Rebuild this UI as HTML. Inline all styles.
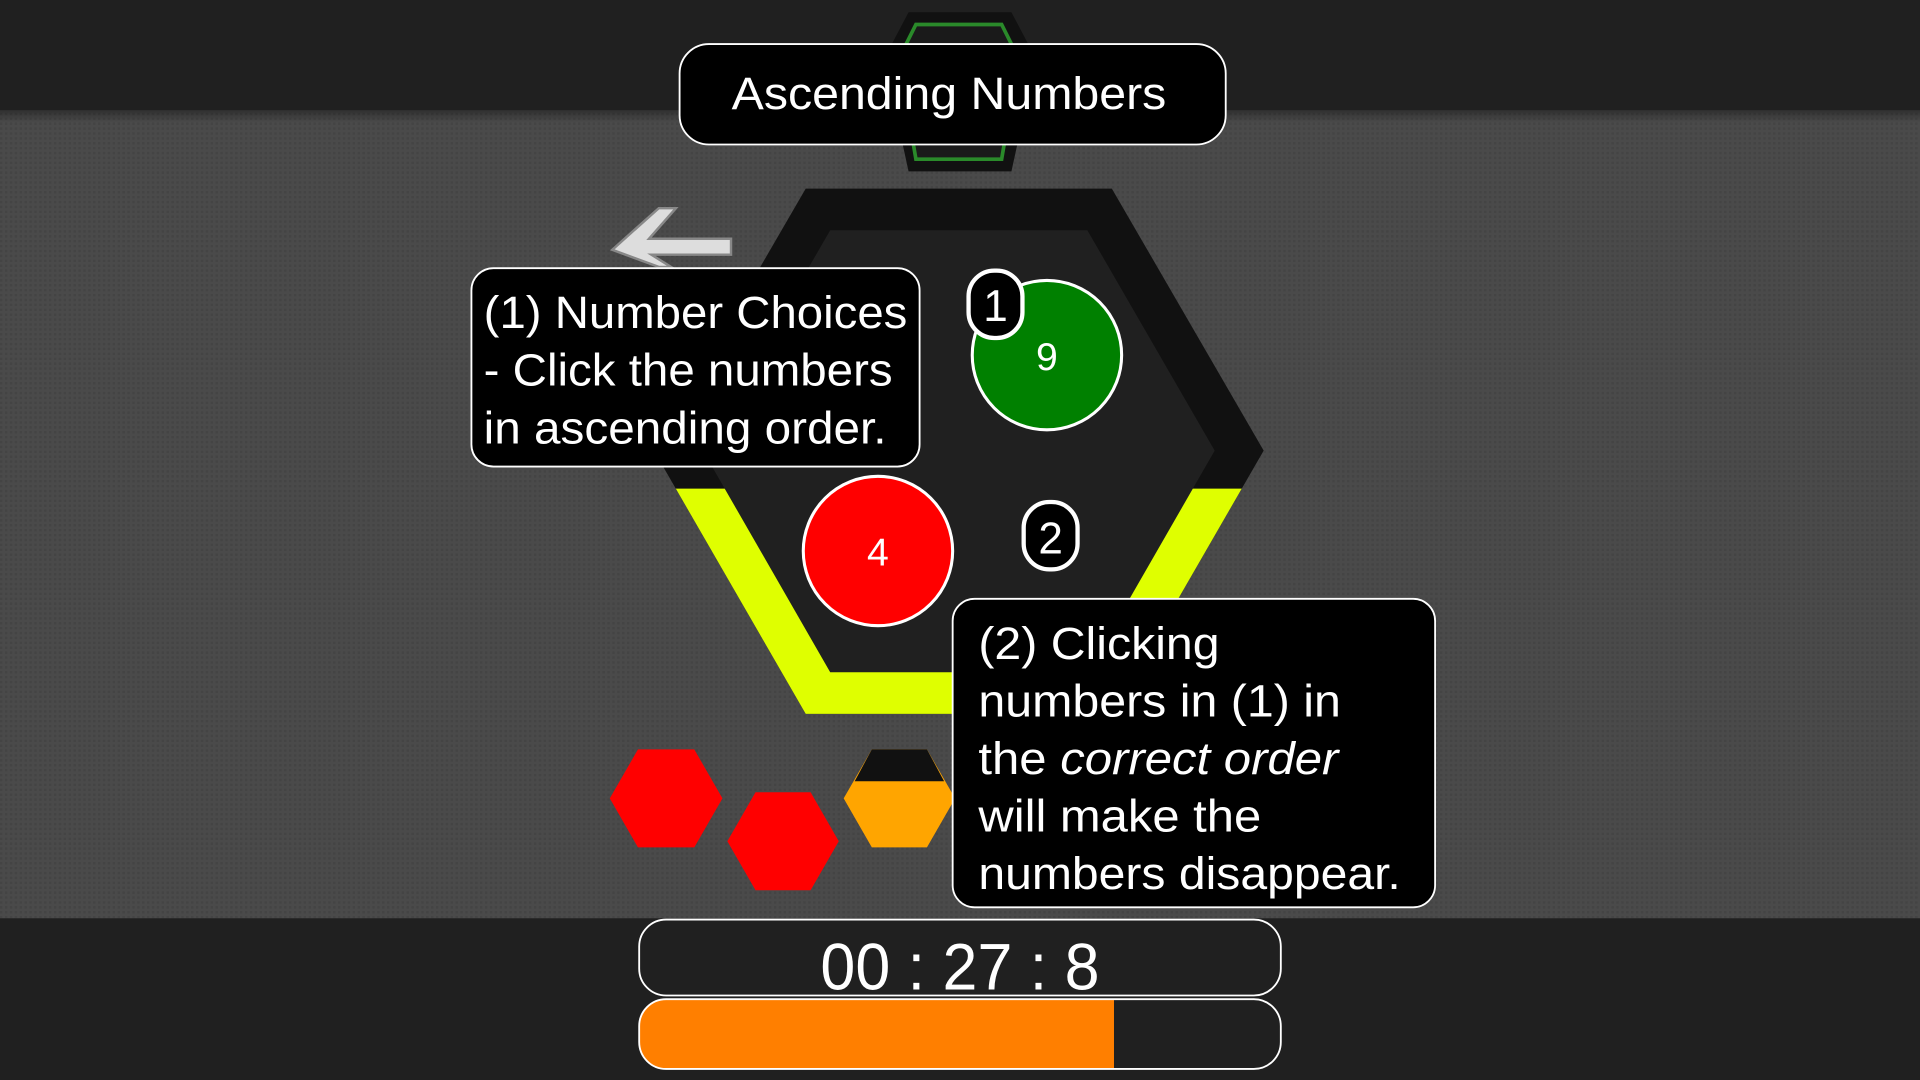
<!DOCTYPE html>
<html><head><meta charset="utf-8"><style>
html,body{margin:0;padding:0;background:#202020;width:1920px;height:1080px;overflow:hidden}
svg{display:block}
text{font-family:"Liberation Sans",sans-serif;fill:#fff}
</style></head><body>
<svg id="game" width="1920" height="1080" viewBox="0 0 1568 882" xmlns="http://www.w3.org/2000/svg">
<defs>
<pattern id="dots" width="4" height="4" patternUnits="userSpaceOnUse"><rect width="4" height="4" fill="#4a4a4a"/><rect width="2" height="2" fill="#444"/></pattern>
<linearGradient id="shade" x1="0" y1="0" x2="0" y2="1"><stop offset="0" stop-color="#000" stop-opacity="0.35"/><stop offset="1" stop-color="#000" stop-opacity="0"/></linearGradient>
<clipPath id="lower"><rect x="0" y="399" width="1568" height="300"/></clipPath>
</defs>
<rect x="0" y="0" width="1568" height="90" fill="#202020"/>
<rect x="0" y="90" width="1568" height="660" fill="url(#dots)"/>
<rect x="0" y="90" width="1568" height="10" fill="url(#shade)"/>
<rect x="0" y="750" width="1568" height="132" fill="#202020"/>

<g>
<polygon points="742,10 826,10 846,48 826,140 742,140 722,48" fill="#111"/>
<polygon points="748,20 818,20 832,48 818,130 748,130 734,48" fill="#1a1a1a" stroke="#2a8a2a" stroke-width="3"/>
</g>
<g>
<rect x="555" y="36" width="446" height="82" rx="24" fill="#000" stroke="#fff" stroke-width="1.5"/>
<text x="775" y="89" font-size="37" text-anchor="middle" textLength="355" lengthAdjust="spacingAndGlyphs">Ascending Numbers</text>
</g>

<g>
<polygon points="658,154 908,154 1032,368 908,583 658,583 534,368" fill="#111"/>
<polygon points="658,154 908,154 1032,368 908,583 658,583 534,368" fill="#dfff00" clip-path="url(#lower)"/>
<polygon points="678,188 888,188 992,368 888,549 678,549 574,368" fill="#202020"/>
</g>

<g>
<polygon points="552,170 538,170 500,204 538,218 548,218 532,208 597,208 597,195 530,195" fill="#ddd" stroke="#888" stroke-width="2"/>
</g>

<g>
<circle cx="855" cy="290" r="61" fill="#008000" stroke="#fff" stroke-width="2.5"/>
<text x="855" y="302" font-size="32" text-anchor="middle">9</text>
</g>
<g>
<circle cx="717" cy="450" r="61" fill="#ff0000" stroke="#fff" stroke-width="2.5"/>
<text x="717" y="462" font-size="32" text-anchor="middle">4</text>
</g>
<g>
<rect x="791" y="221" width="44" height="55" rx="21" fill="#000" stroke="#fff" stroke-width="3.5"/>
<text x="813" y="262" font-size="36" text-anchor="middle">1</text>
</g>
<g>
<rect x="836" y="410" width="44" height="55" rx="21" fill="#000" stroke="#fff" stroke-width="3.5"/>
<text x="858" y="452" font-size="36" text-anchor="middle">2</text>
</g>

<g>
<rect x="385" y="219" width="366" height="162" rx="18" fill="#000" stroke="#fff" stroke-width="1.5"/>
<text x="395" y="268" font-size="37" textLength="346" lengthAdjust="spacingAndGlyphs">(1) Number Choices</text>
<text x="395" y="315" font-size="37" textLength="334" lengthAdjust="spacingAndGlyphs">- Click the numbers</text>
<text x="395" y="362" font-size="37" textLength="329" lengthAdjust="spacingAndGlyphs">in ascending order.</text>
</g>

<g>
<polygon points="521,612 567,612 590,652 567,692 521,692 498,652" fill="#ff0000"/>
<polygon points="617,647 662,647 685,687 662,727 617,727 594,687" fill="#ff0000"/>
<polygon points="712,612 757,612 780,652 757,692 712,692 689,652" fill="#ffa500"/>
<polygon points="712,612 757,612 771,638 698,638" fill="#111"/>
</g>

<g>
<rect x="778" y="489" width="394" height="252" rx="18" fill="#000" stroke="#fff" stroke-width="1.5"/>
<text x="799" y="538" font-size="37" textLength="197" lengthAdjust="spacingAndGlyphs">(2) Clicking</text>
<text x="799" y="585" font-size="37" textLength="296" lengthAdjust="spacingAndGlyphs">numbers in (1) in</text>
<text x="799" y="632" font-size="37" textLength="294" lengthAdjust="spacingAndGlyphs">the <tspan font-style="italic">correct order</tspan></text>
<text x="799" y="679" font-size="37" textLength="231" lengthAdjust="spacingAndGlyphs">will make the</text>
<text x="799" y="726" font-size="37" textLength="345" lengthAdjust="spacingAndGlyphs">numbers disappear.</text>
</g>

<g>
<rect x="522" y="751" width="524" height="62" rx="22" fill="#202020" stroke="#fff" stroke-width="1.5"/>
<text id="timer-text" x="784" y="808" font-size="54" text-anchor="middle" textLength="228" lengthAdjust="spacingAndGlyphs">00 : 27 : 8</text>
</g>
<g>
<rect x="522" y="816" width="524" height="57" rx="22" fill="#202020"/>
<clipPath id="barclip"><rect x="522" y="816" width="524" height="57" rx="22"/></clipPath>
<rect id="progress-fill" x="522" y="816" width="388" height="57" fill="#ff7f00" clip-path="url(#barclip)"/>
<rect x="522" y="816" width="524" height="57" rx="22" fill="none" stroke="#fff" stroke-width="1.5"/>
</g>
</svg>
<script>
const progressValues = [0.74];
const progressMax = [1];
const fill = document.getElementById('progress-fill');


fill.setAttribute('width', String(524 * progressValues[0] / progressMax[0]));
</script>
</body></html>
